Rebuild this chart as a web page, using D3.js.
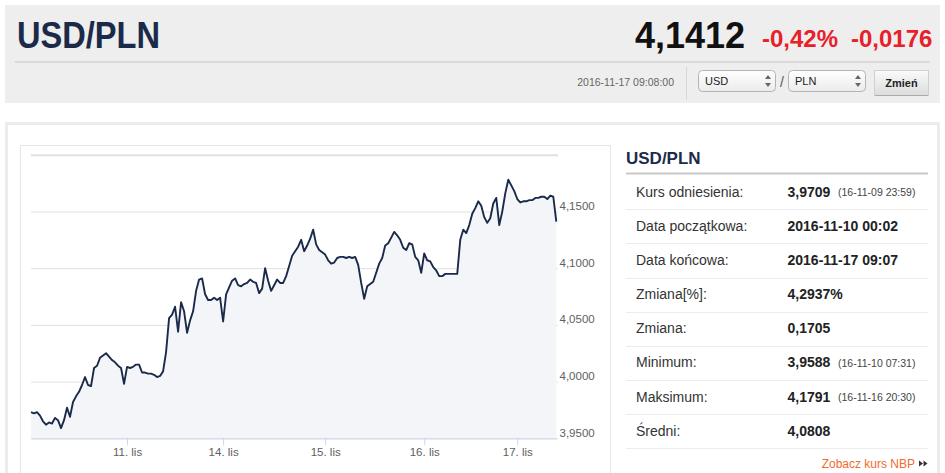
<!DOCTYPE html>
<html>
<head>
<meta charset="utf-8">
<script src="https://cdn.jsdelivr.net/npm/d3@7"></script>
<style>
body { margin: 0; background: #fff; font-family: "Liberation Sans", Arial, sans-serif; }
</style>
</head>
<body>
<div id="page"></div>
<script>
var pair = "USD/PLN";
var lastRate = "4,1412";
var changePct = "-0,42%";
var changeAbs = "-0,0176";
var quoteTime = "2016-11-17 09:08:00";
var currencies = ["USD", "PLN"];

// ordinal x axis: one quote per step, weekend skipped
var dayLabels = ["11. lis", "14. lis", "15. lis", "16. lis", "17. lis"];
var dayStart = [32, 64, 98, 131, 162];

var rates = [
  3.973, 3.972, 3.973, 3.970, 3.965, 3.962, 3.964, 3.963, 3.968, 3.966,
  3.959, 3.966, 3.977, 3.969, 3.982, 3.987, 3.991, 3.997, 4.004, 3.997,
  3.996, 4.012, 4.014, 4.021, 4.023, 4.025, 4.022, 4.019, 4.017, 4.014,
  4.012, 3.998, 4.013, 4.012, 4.013, 4.015, 4.015, 4.008, 4.008, 4.007,
  4.007, 4.006, 4.004, 4.005, 4.009, 4.026, 4.056, 4.059, 4.066, 4.044,
  4.070, 4.062, 4.043, 4.054, 4.062, 4.080, 4.090, 4.091, 4.077, 4.072,
  4.072, 4.074, 4.072, 4.074, 4.053, 4.077, 4.083, 4.089, 4.091, 4.085,
  4.084, 4.086, 4.087, 4.090, 4.088, 4.087, 4.078, 4.082, 4.100, 4.089,
  4.080, 4.085, 4.090, 4.087, 4.087, 4.093, 4.102, 4.111, 4.115, 4.119,
  4.125, 4.115, 4.120, 4.126, 4.134, 4.121, 4.116, 4.114, 4.112, 4.107,
  4.104, 4.105, 4.109, 4.110, 4.110, 4.109, 4.110, 4.109, 4.110, 4.103,
  4.087, 4.073, 4.084, 4.086, 4.088, 4.096, 4.104, 4.109, 4.120, 4.122,
  4.127, 4.132, 4.129, 4.125, 4.118, 4.116, 4.122, 4.121, 4.110, 4.107,
  4.096, 4.113, 4.107, 4.106, 4.101, 4.098, 4.093, 4.093, 4.095, 4.095,
  4.095, 4.095, 4.095, 4.125, 4.134, 4.131, 4.138, 4.148, 4.153, 4.159,
  4.155, 4.145, 4.140, 4.144, 4.157, 4.162, 4.138, 4.150, 4.166, 4.178,
  4.173, 4.168, 4.161, 4.158, 4.159, 4.159, 4.160, 4.160, 4.162, 4.162,
  4.163, 4.163, 4.161, 4.164, 4.163, 4.141
];

var yTicks = [3.95, 4.00, 4.05, 4.10, 4.15, 4.20];

var statLabels = ["Kurs odniesienia:", "Data początkowa:", "Data końcowa:", "Zmiana[%]:",
                  "Zmiana:", "Minimum:", "Maksimum:", "Średni:"];
var statValues = ["3,9709", "2016-11-10 00:02", "2016-11-17 09:07", "4,2937%",
                  "0,1705", "3,9588", "4,1791", "4,0808"];
var statNotes = ["(16-11-09 23:59)", "", "", "", "", "(16-11-10 07:31)", "(16-11-16 20:30)", ""];

var svg = d3.select("#page").append("svg")
    .attr("width", 945)
    .attr("height", 473);

var defs = svg.append("defs");
var g1 = defs.append("linearGradient").attr("id", "sel").attr("x1", 0).attr("x2", 0).attr("y1", 0).attr("y2", 1);
g1.append("stop").attr("offset", "0%").attr("stop-color", "#ffffff");
g1.append("stop").attr("offset", "100%").attr("stop-color", "#ebebeb");
var g2 = defs.append("linearGradient").attr("id", "btn").attr("x1", 0).attr("x2", 0).attr("y1", 0).attr("y2", 1);
g2.append("stop").attr("offset", "0%").attr("stop-color", "#fafafa");
g2.append("stop").attr("offset", "100%").attr("stop-color", "#dcdcdc");

// ---- header ----
var head = svg.append("g");
head.append("rect").attr("x", 5).attr("y", 5).attr("width", 935).attr("height", 98).attr("fill", "#eeeeee");

head.append("text")
    .attr("x", 17).attr("y", 48)
    .attr("textLength", 143).attr("lengthAdjust", "spacingAndGlyphs")
    .style("font-size", "36px").style("font-weight", "bold").attr("fill", "#1b2a48")
    .text(pair);

head.append("text")
    .attr("x", 745).attr("y", 48)
    .style("text-anchor", "end")
    .style("font-size", "36px").style("font-weight", "bold").attr("fill", "#111")
    .text(lastRate);

head.append("text")
    .attr("x", 762).attr("y", 47)
    .style("font-size", "24px").style("font-weight", "bold").attr("fill", "#e8202a")
    .text(changePct);

head.append("text")
    .attr("x", 851).attr("y", 47)
    .style("font-size", "24px").style("font-weight", "bold").attr("fill", "#e8202a")
    .text(changeAbs);

head.append("line").attr("x1", 15).attr("x2", 930).attr("y1", 62).attr("y2", 62)
    .attr("stroke", "#dadada").attr("stroke-width", 2);

head.append("text")
    .attr("x", 674).attr("y", 86)
    .style("text-anchor", "end").style("font-size", "10.5px").attr("fill", "#666")
    .text(quoteTime);

head.append("line").attr("x1", 686.5).attr("x2", 686.5).attr("y1", 67).attr("y2", 100)
    .attr("stroke", "#d8d8d8");

var selX = [698, 788];
currencies.forEach(function(c, i) {
    var sx = selX[i];
    head.append("rect").attr("x", sx + 0.5).attr("y", 70.5).attr("width", 77).attr("height", 21)
        .attr("rx", 4).attr("fill", "url(#sel)").attr("stroke", "#b4b4b4");
    head.append("text").attr("x", sx + 7).attr("y", 85)
        .style("font-size", "11px").attr("fill", "#222").text(c);
    head.append("path").attr("d", "M" + (sx + 67) + ",79 l3,-4 l3,4 z M" + (sx + 67) + ",83 l3,4 l3,-4 z")
        .attr("fill", "#666");
});
head.append("text").attr("x", 782).attr("y", 87).style("text-anchor", "middle")
    .style("font-size", "14px").attr("fill", "#555").text("/");

head.append("rect").attr("x", 874.5).attr("y", 70.5).attr("width", 54).attr("height", 25)
    .attr("fill", "url(#btn)").attr("stroke", "#d0d0d0");
head.append("line").attr("x1", 875).attr("x2", 928).attr("y1", 95.5).attr("y2", 95.5).attr("stroke", "#aaa");
head.append("text").attr("x", 901.5).attr("y", 87)
    .style("text-anchor", "middle").style("font-size", "11px").style("font-weight", "bold")
    .attr("fill", "#222").text("Zmień");

// ---- panel ----
svg.append("rect").attr("x", 6.5).attr("y", 123.5).attr("width", 932).attr("height", 360)
    .attr("fill", "#fff").attr("stroke", "#ececec").attr("stroke-width", 3);
svg.append("rect").attr("x", 20.5).attr("y", 145.5).attr("width", 590).attr("height", 340)
    .attr("fill", "#fff").attr("stroke", "#e6e6e6");

// ---- chart ----
var x = d3.scaleLinear().domain([0, rates.length - 1]).range([31, 556.3]);
var y = d3.scaleLinear().domain([3.95, 4.20]).range([438.3, 154.8]);

var fmt = function(d) { return d3.format(".4f")(d).replace(".", ","); };

var gy = svg.append("g")
    .attr("transform", "translate(558,0)")
    .call(d3.axisRight(y).tickValues(yTicks).tickSize(-527).tickPadding(1.5)
        .tickFormat(function(d) { return d > 4.19 ? "" : fmt(d); }));
gy.select(".domain").remove();
gy.selectAll(".tick line").attr("stroke", "#e1e1e1")
    .attr("stroke-width", function(d) { return d > 4.19 ? 2 : 1; });
gy.selectAll(".tick text")
    .attr("dy", "-0.18em")
    .attr("fill", "#606060")
    .style("font-family", "\"Liberation Sans\", Arial, sans-serif")
    .style("font-size", "11.5px");

var area = d3.area()
    .x(function(d, i) { return x(i); })
    .y0(y(3.95))
    .y1(function(d) { return y(d); });

var line = d3.line()
    .x(function(d, i) { return x(i); })
    .y(function(d) { return y(d); });

svg.append("path").datum(rates).attr("d", area).attr("fill", "#f4f5f8");
svg.append("path").datum(rates).attr("d", line)
    .attr("fill", "none").attr("stroke", "#1a2a4a").attr("stroke-width", 1.9)
    .attr("stroke-linejoin", "round");

var gx = svg.append("g")
    .attr("transform", "translate(0,438.3)")
    .call(d3.axisBottom(x).tickValues(dayStart).tickSize(7).tickSizeOuter(0)
        .tickFormat(function(d, i) { return dayLabels[i]; }));
gx.select(".domain").attr("stroke", "#ccd6eb");
gx.selectAll(".tick line").attr("stroke", "#ccd6eb");
gx.selectAll(".tick text")
    .attr("fill", "#606060")
    .style("font-family", "\"Liberation Sans\", Arial, sans-serif")
    .style("font-size", "11.5px");

// ---- stats table ----
var tab = svg.append("g");
tab.append("text").attr("x", 626).attr("y", 163.5)
    .style("font-size", "17px").style("font-weight", "bold").attr("fill", "#1c2b4a")
    .text(pair);
tab.append("line").attr("x1", 626).attr("x2", 928).attr("y1", 173.5).attr("y2", 173.5)
    .attr("stroke", "#c8c8c8").attr("stroke-width", 2);

statLabels.forEach(function(lbl, i) {
    var cy = 191.7 + i * 34.15;
    tab.append("text").attr("x", 636).attr("y", cy + 5)
        .style("font-size", "14px").attr("fill", "#333").text(lbl);
    tab.append("text").attr("x", 787.5).attr("y", cy + 5)
        .style("font-size", "14px").style("font-weight", "bold").attr("fill", "#222")
        .text(statValues[i]);
    if (statNotes[i]) {
        tab.append("text").attr("x", 838).attr("y", cy + 4.5)
            .style("font-size", "10.5px").attr("fill", "#444").text(statNotes[i]);
    }
    tab.append("line").attr("x1", 626).attr("x2", 928)
        .attr("y1", Math.round(cy + 17.5) + 0.5).attr("y2", Math.round(cy + 17.5) + 0.5)
        .attr("stroke", "#ececec");
});

tab.append("text").attr("x", 915).attr("y", 467.5)
    .style("text-anchor", "end").style("font-size", "12px").attr("fill", "#f26a2e")
    .text("Zobacz kurs NBP");
tab.append("path").attr("d", "M919,460.5 l4,3 l-4,3 z M923.5,460.5 l4,3 l-4,3 z").attr("fill", "#333");
</script>
</body>
</html>
